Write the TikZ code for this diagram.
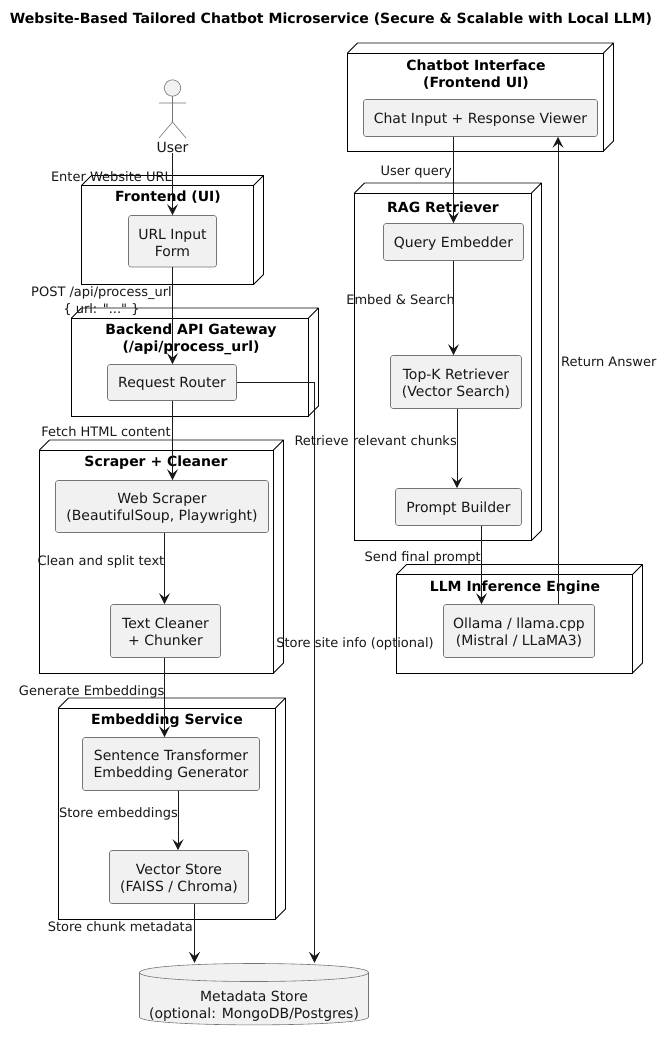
\documentclass[tikz,border=0pt]{standalone}
\usepackage{fontspec}
\setmainfont{DejaVu Sans}
\newfontfamily\plainq{DejaVu Sans}
\usetikzlibrary{arrows.meta}
\definecolor{compfill}{HTML}{F1F1F1}
\definecolor{ink}{HTML}{181818}
\newcommand{\pkgbox}[7]{% name x1 y1 x2 y2 titlex,titley title
  \pgfmathsetmacro{\pw}{#4-#2}\pgfmathsetmacro{\ph}{#5-#3}
  \pgfmathsetmacro{\pcx}{(#2+#4)/2}\pgfmathsetmacro{\pcy}{(#3+#5)/2}
  \draw[pkgline] (#2,#3) -- ++(10,-10) -- (#4+10,#3-10) -- (#4+10,#5-10) -- (#4,#5)
     (#4,#3) -- ++(10,-10);
  \node[pkgframe,minimum width=\pw pt,minimum height=\ph pt] (#1) at (\pcx,\pcy) {};
  \node[pkgtitle] (#1T) at (#6) {#7};
}
\newcommand{\comp}[6]{% name x1 y1 x2 y2 text
  \pgfmathsetmacro{\pw}{#4-#2}\pgfmathsetmacro{\ph}{#5-#3}
  \pgfmathsetmacro{\pcx}{(#2+#4)/2}\pgfmathsetmacro{\pcy}{(#3+#5)/2}
  \node[compbox,minimum width=\pw pt,minimum height=\ph pt] (#1) at (\pcx,\pcy) {\rule{0pt}{13pt}#6};
}
\begin{document}
\begin{tikzpicture}[x=1pt,y=-1pt,
  base text/.style={font=\fontsize{14}{17}\selectfont,text=ink,inner sep=0pt,align=center},
  pkgline/.style={draw=black,line width=0.9pt,line join=round},
  pkgframe/.style={draw=black,line width=0.9pt,inner sep=0pt},
  pkgtitle/.style={font=\fontsize{14}{17}\selectfont\bfseries,text=black,inner sep=0pt,align=center},
  compbox/.style={base text,draw=ink!60,fill=compfill,line width=0.6pt,rounded corners=2.5pt},
  edgelabel/.style={font=\fontsize{13}{16.5}\selectfont,text=ink,inner sep=0pt,align=center},
  flow/.style={draw=ink,line width=0.9pt,-{Stealth[length=11pt,width=11pt,inset=4.5pt]}},
]
\useasboundingbox (0,0) rectangle (669,1041);
\fill[white] (0,0) rectangle (669,1041);
\node[font=\fontsize{14.05}{17}\selectfont\bfseries,text=black,inner sep=0pt] (title) at (331,19) {Website-Based Tailored Chatbot Microservice (Secure \& Scalable with Local LLM)};

% actor
\draw[draw=ink!60,fill=compfill,line width=0.6pt] (172.5,88) circle[radius=8.2];
\draw[draw=ink!60,line width=0.6pt] (172.5,96.2) -- (172.5,122) (159,103) -- (186,103) (159,138) -- (172.5,122) -- (186,138);
\node[base text] (user) at (172.5,147.5) {User};

% packages
\pkgbox{frontend}{81.5}{185.5}{253.5}{284.5}{168,197.5}{Frontend (UI)}
\pkgbox{gateway}{71.5}{318}{308.5}{416}{191,339}{Backend API Gateway\\(/api/process\_url)}
\pkgbox{scraper}{39.5}{450}{273.5}{673}{156,463}{Scraper + Cleaner}
\pkgbox{embedding}{58.5}{708}{275.5}{919}{167,721}{Embedding Service}
\pkgbox{chatbot}{347.5}{53}{603.5}{151}{476,75}{Chatbot Interface\\(Frontend UI)}
\pkgbox{rag}{354.5}{193}{531.5}{540.5}{443,207}{RAG Retriever}
\pkgbox{llm}{396.5}{574.5}{632.5}{673}{515,588}{LLM Inference Engine}

% components
\comp{url}{128.5}{215.5}{216.5}{267}{URL Input\\Form}
\comp{router}{107.5}{364.5}{236.5}{400.5}{Request Router}
\comp{web}{55.5}{480.5}{268.5}{532.5}{Web Scraper\\(BeautifulSoup, Playwright)}
\comp{cleaner}{110.5}{604.5}{220.5}{657.5}{Text Cleaner\\+ Chunker}
\comp{sentence}{82.5}{737.5}{259.5}{790.5}{Sentence Transformer\\Embedding Generator}
\comp{vector}{109.5}{850.5}{248.5}{903.5}{Vector Store\\(FAISS / Chroma)}
\comp{chatin}{363.5}{99.5}{597.5}{136.5}{Chat Input + Response Viewer}
\comp{query}{383.5}{223.5}{523.5}{260.5}{Query Embedder}
\comp{topk}{390.5}{355.5}{521.5}{408.5}{Top-K Retriever\\(Vector Search)}
\comp{prompt}{395.5}{488.5}{521.5}{525.5}{Prompt Builder}
\comp{ollama}{443.5}{604.5}{594.5}{657.5}{Ollama / llama.cpp\\(Mistral / LLaMA3)}

% database
\draw[draw=ink!60,fill=compfill,line width=0.6pt]
  (139.5,972.5) .. controls (139.5,960.5) and (368.5,960.5) .. (368.5,972.5)
  -- (368.5,1017) .. controls (368.5,1027.5) and (139.5,1027.5) .. (139.5,1017) -- cycle;
\draw[draw=ink!60,line width=0.6pt] (139.5,972.5) .. controls (139.5,984.5) and (368.5,984.5) .. (368.5,972.5);
\node[base text,minimum width=229pt,minimum height=62pt] (db) at (254,994) {};
\node[base text] (dbtext) at (254,1006) {Metadata Store\\(optional: MongoDB/Postgres)};

% connectors
\draw[flow] (user.south) -- (url.north);
\draw[flow] (url.south) -- (router.north -| url.south);
\draw[flow] (router.south -| url.south) -- ([xshift=10.5pt]web.north);
\draw[flow] ([xshift=2.5pt]web.south) -- ([xshift=-1pt]cleaner.north);
\draw[flow] ([xshift=-1pt]cleaner.south) -- ([xshift=-6.5pt]sentence.north);
\draw[flow] ([xshift=7pt]sentence.south) -- ([xshift=-1pt]vector.north);
\draw[flow] ([xshift=15.5pt]vector.south) -- ([xshift=-59.5pt]db.north);
\draw[flow] (router.east) -| ([xshift=60.5pt]db.north);
\draw[flow] ([xshift=-27pt]chatin.south) -- (query.north);
\draw[flow] (query.south) -- ([xshift=-2.5pt]topk.north);
\draw[flow] ([xshift=1pt]topk.south) -- ([xshift=-1.5pt]prompt.north);
\draw[flow] ([xshift=23pt]prompt.south) -- ([xshift=-37.5pt]ollama.north);
\draw[flow] ([xshift=39pt]ollama.north) -- ([xshift=77.5pt]chatin.south);

% connector labels
\node[edgelabel,anchor=base east] (l1) at (172,181) {Enter Website URL};
\node[edgelabel] (l2) at (101.5,301) {POST /api/process\_url\\\{ url: {\plainq "..."} \}};
\node[edgelabel,anchor=base east] (l3) at (171,436) {Fetch HTML content};
\node[edgelabel,anchor=base east] (l4) at (164.5,565) {Clean and split text};
\node[edgelabel,anchor=base east] (l5) at (164.5,695) {Generate Embeddings};
\node[edgelabel,anchor=base east] (l6) at (178,817) {Store embeddings};
\node[edgelabel,anchor=base east] (l7) at (193,931) {Store chunk metadata};
\node[edgelabel,anchor=base east] (l8) at (434,647) {Store site info (optional)};
\node[edgelabel,anchor=base east] (l9) at (452,175) {User query};
\node[edgelabel,anchor=base east] (l10) at (455,304) {Embed \& Search};
\node[edgelabel,anchor=base east] (l11) at (457,445) {Retrieve relevant chunks};
\node[edgelabel,anchor=base east] (l12) at (481,561) {Send final prompt};
\node[edgelabel,anchor=base west] (l13) at (561,366) {Return Answer};
\end{tikzpicture}
\end{document}
